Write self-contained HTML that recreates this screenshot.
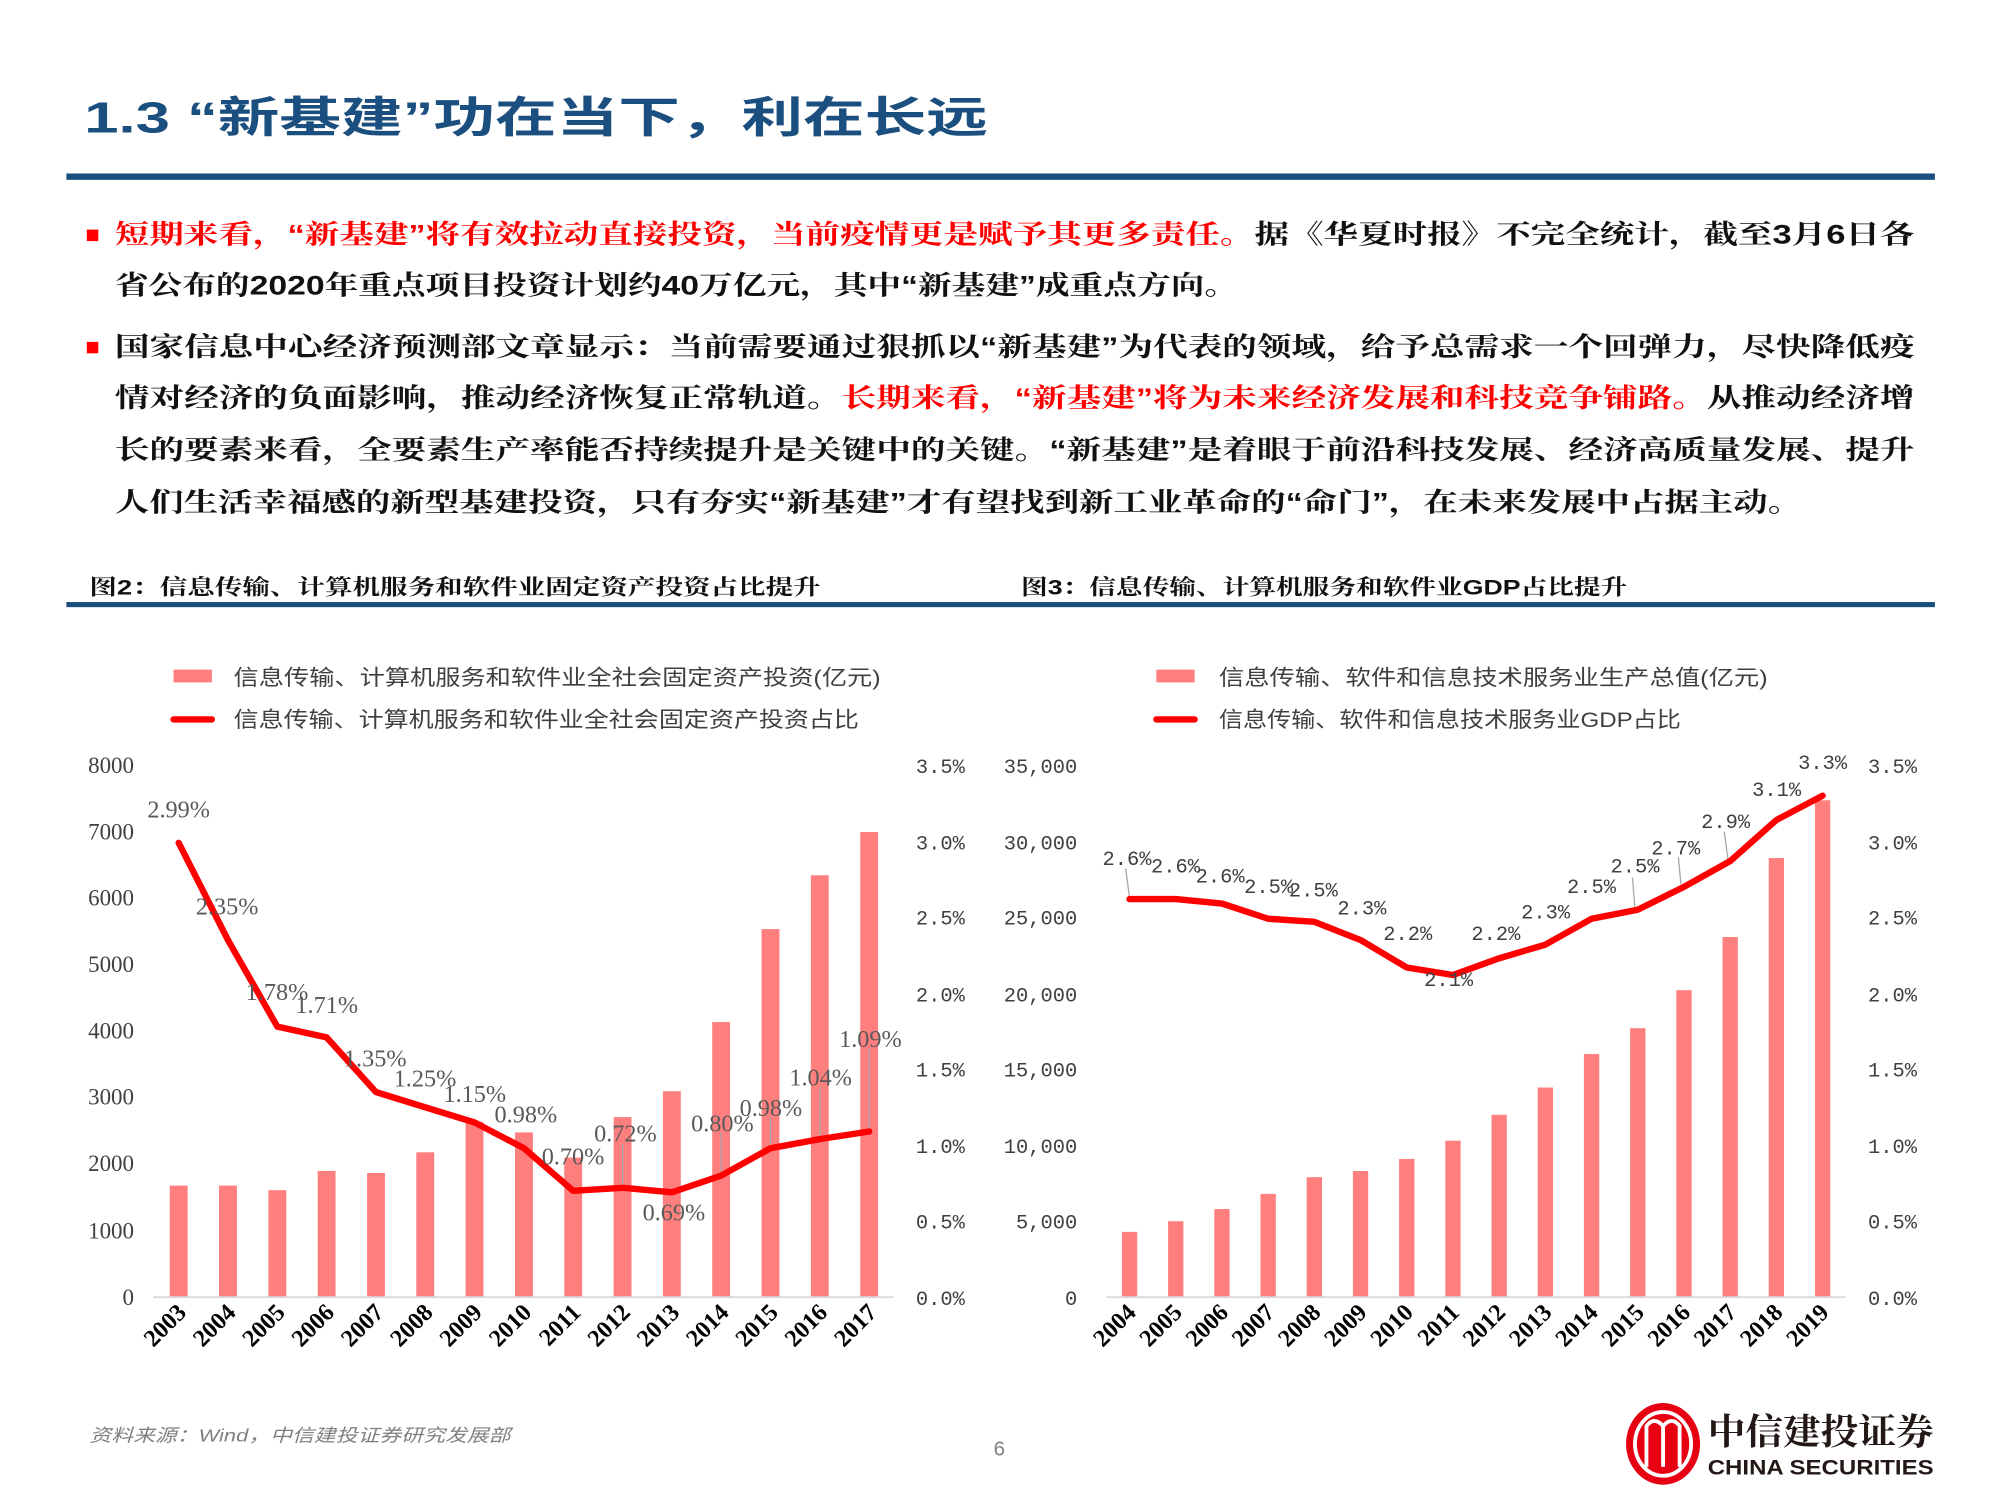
<!DOCTYPE html>
<html><head><meta charset="utf-8">
<style>
html,body{margin:0;padding:0;background:#fff;}
svg{display:block;}
.cn{font-family:"Liberation Sans","Noto Sans CJK SC",sans-serif;}
.bd{font-family:"Liberation Sans","Noto Serif CJK SC","Noto Sans CJK SC",sans-serif;font-weight:bold;}
.ax{font-family:"Liberation Serif","Noto Serif CJK SC",serif;font-size:18px;fill:#404040;}
.mono{font-family:"Liberation Mono","Noto Sans CJK SC",monospace;font-size:16px;fill:#404040;}
.dl{font-family:"Liberation Serif",serif;font-size:19px;fill:#595959;}
.dl2{font-family:"Liberation Mono",monospace;font-size:16px;fill:#404040;}
.yr{font-family:"Liberation Serif",serif;font-size:19px;font-weight:bold;fill:#000;}
.lg{font-family:"Liberation Sans","Noto Sans CJK SC",sans-serif;font-size:17px;fill:#404040;}
</style></head>
<body>
<svg width="2000" height="1500" viewBox="0 0 1567 1176" preserveAspectRatio="none" xmlns="http://www.w3.org/2000/svg">
<rect width="1567" height="1176" fill="#fff"/>
<text x="66" y="104" class="cn" font-size="34" fill="#1B4F7F" font-weight="bold" textLength="708" lengthAdjust="spacingAndGlyphs">1.3 “新基建”功在当下，利在长远</text>
<rect x="52" y="136" width="1464" height="5" fill="#1B4F7F"/>
<rect x="68" y="180" width="9" height="9" fill="#f00"/>
<rect x="68" y="268" width="9" height="9" fill="#f00"/>
<text class="bd" font-size="21" y="191" x="90" textLength="1410" lengthAdjust="spacingAndGlyphs"><tspan fill="#f00">短期来看，“新基建”将有效拉动直接投资，当前疫情更是赋予其更多责任。</tspan><tspan fill="#111">据《华夏时报》不完全统计，截至3月6日各</tspan></text>
<text class="bd" font-size="21" y="231" x="90" fill="#111" textLength="880" lengthAdjust="spacingAndGlyphs">省公布的2020年重点项目投资计划约40万亿元，其中“新基建”成重点方向。</text>
<text class="bd" font-size="21" y="279" x="90" fill="#111" textLength="1410" lengthAdjust="spacingAndGlyphs">国家信息中心经济预测部文章显示：当前需要通过狠抓以“新基建”为代表的领域，给予总需求一个回弹力，尽快降低疫</text>
<text class="bd" font-size="21" y="319" x="90" textLength="1410" lengthAdjust="spacingAndGlyphs"><tspan fill="#111">情对经济的负面影响，推动经济恢复正常轨道。</tspan><tspan fill="#f00">长期来看，“新基建”将为未来经济发展和科技竞争铺路。</tspan><tspan fill="#111">从推动经济增</tspan></text>
<text class="bd" font-size="21" y="360" x="90" fill="#111" textLength="1410" lengthAdjust="spacingAndGlyphs">长的要素来看，全要素生产率能否持续提升是关键中的关键。“新基建”是着眼于前沿科技发展、经济高质量发展、提升</text>
<text class="bd" font-size="21" y="401" x="90" fill="#111" textLength="1322" lengthAdjust="spacingAndGlyphs">人们生活幸福感的新型基建投资，只有夯实“新基建”才有望找到新工业革命的“命门”，在未来发展中占据主动。</text>
<text class="bd" font-size="17" y="466" x="70" fill="#111" textLength="573" lengthAdjust="spacingAndGlyphs">图2：信息传输、计算机服务和软件业固定资产投资占比提升</text>
<text class="bd" font-size="17" y="466" x="800" fill="#111" textLength="475" lengthAdjust="spacingAndGlyphs">图3：信息传输、计算机服务和软件业GDP占比提升</text>
<rect x="52" y="472" width="1464" height="4" fill="#1B4F7F"/>

<rect x="136" y="525" width="30" height="10" fill="#FF7F7F"/>
<text class="lg" x="183" y="537" textLength="507" lengthAdjust="spacingAndGlyphs">信息传输、计算机服务和软件业全社会固定资产投资(亿元)</text>
<line x1="136" y1="564" x2="166" y2="564" stroke="#f00" stroke-width="5" stroke-linecap="round"/>
<text class="lg" x="183" y="570" textLength="490" lengthAdjust="spacingAndGlyphs">信息传输、计算机服务和软件业全社会固定资产投资占比</text>
<g class="ax" text-anchor="end">
<text x="105" y="606">8000</text><text x="105" y="658">7000</text><text x="105" y="710">6000</text><text x="105" y="762">5000</text>
<text x="105" y="814">4000</text><text x="105" y="866">3000</text><text x="105" y="918">2000</text><text x="105" y="971">1000</text><text x="105" y="1023">0</text>
</g>
<g class="mono" text-anchor="end">
<text x="756" y="606">3.5%</text><text x="756" y="666">3.0%</text><text x="756" y="725">2.5%</text><text x="756" y="785">2.0%</text>
<text x="756" y="844">1.5%</text><text x="756" y="904">1.0%</text><text x="756" y="963">0.5%</text><text x="756" y="1023">0.0%</text>
</g>
<g fill="#FF7F7F">
<rect x="133" y="929.5" width="14" height="87.5"/>
<rect x="171.6" y="929.5" width="14" height="87.5"/>
<rect x="210.3" y="933.1" width="14" height="83.9"/>
<rect x="248.9" y="918" width="14" height="99"/>
<rect x="287.6" y="919.6" width="14" height="97.4"/>
<rect x="326.2" y="903.4" width="14" height="113.6"/>
<rect x="364.8" y="879.5" width="14" height="137.5"/>
<rect x="403.5" y="887.8" width="14" height="129.2"/>
<rect x="442.1" y="907.6" width="14" height="109.4"/>
<rect x="480.8" y="875.8" width="14" height="141.2"/>
<rect x="519.4" y="855.5" width="14" height="161.5"/>
<rect x="558" y="801.3" width="14" height="215.7"/>
<rect x="596.7" y="728.4" width="14" height="288.6"/>
<rect x="635.3" y="686.2" width="14" height="330.8"/>
<rect x="674" y="652.3" width="14" height="364.7"/>
</g>
<line x1="120" y1="1017" x2="700" y2="1017" stroke="#d9d9d9" stroke-width="1.5"/>
<g stroke="#a6a6a6" stroke-width="1">
<line x1="487.8" y1="931" x2="487.8" y2="897"/><line x1="565" y1="921" x2="565" y2="888"/><line x1="603.7" y1="900" x2="603.7" y2="876"/><line x1="642.3" y1="893" x2="642.3" y2="852"/><line x1="681" y1="887" x2="681" y2="822"/>
</g>
<polyline fill="none" stroke="#f00" stroke-width="5" stroke-linejoin="round" stroke-linecap="round" points="140,660.8 178.6,737 217.3,804.9 255.9,813.3 294.6,856.2 333.2,868.1 371.8,880 410.5,900.2 449.1,933.6 487.8,931.2 526.4,934.8 565,921.7 603.7,900.2 642.3,893.1 681,887.1"/>
<g class="dl" text-anchor="middle">
<text x="140" y="641">2.99%</text><text x="178" y="717">2.35%</text><text x="217" y="784">1.78%</text><text x="256" y="794">1.71%</text>
<text x="294" y="836">1.35%</text><text x="333" y="852">1.25%</text><text x="372" y="864">1.15%</text><text x="412" y="880">0.98%</text>
<text x="449" y="913">0.70%</text><text x="490" y="895">0.72%</text><text x="528" y="957">0.69%</text><text x="566" y="887">0.80%</text>
<text x="604" y="875">0.98%</text><text x="643" y="851">1.04%</text><text x="682" y="821">1.09%</text>
</g>
<g class="yr" text-anchor="end">
<text transform="translate(147,1030) rotate(-45)">2003</text><text transform="translate(185.6,1030) rotate(-45)">2004</text><text transform="translate(224.3,1030) rotate(-45)">2005</text><text transform="translate(262.9,1030) rotate(-45)">2006</text><text transform="translate(301.6,1030) rotate(-45)">2007</text><text transform="translate(340.2,1030) rotate(-45)">2008</text><text transform="translate(378.8,1030) rotate(-45)">2009</text><text transform="translate(417.5,1030) rotate(-45)">2010</text><text transform="translate(456.1,1030) rotate(-45)">2011</text><text transform="translate(494.8,1030) rotate(-45)">2012</text><text transform="translate(533.4,1030) rotate(-45)">2013</text><text transform="translate(572,1030) rotate(-45)">2014</text><text transform="translate(610.7,1030) rotate(-45)">2015</text><text transform="translate(649.3,1030) rotate(-45)">2016</text><text transform="translate(688,1030) rotate(-45)">2017</text>
</g>

<rect x="906" y="525" width="30" height="10" fill="#FF7F7F"/>
<text class="lg" x="955" y="537" textLength="430" lengthAdjust="spacingAndGlyphs">信息传输、软件和信息技术服务业生产总值(亿元)</text>
<line x1="906" y1="564" x2="936" y2="564" stroke="#f00" stroke-width="5" stroke-linecap="round"/>
<text class="lg" x="955" y="570" textLength="362" lengthAdjust="spacingAndGlyphs">信息传输、软件和信息技术服务业GDP占比</text>
<g class="mono" text-anchor="end">
<text x="844" y="606">35,000</text><text x="844" y="666">30,000</text><text x="844" y="725">25,000</text><text x="844" y="785">20,000</text>
<text x="844" y="844">15,000</text><text x="844" y="904">10,000</text><text x="844" y="963">5,000</text><text x="844" y="1023">0</text>
<text x="1502" y="606">3.5%</text><text x="1502" y="666">3.0%</text><text x="1502" y="725">2.5%</text><text x="1502" y="785">2.0%</text>
<text x="1502" y="844">1.5%</text><text x="1502" y="904">1.0%</text><text x="1502" y="963">0.5%</text><text x="1502" y="1023">0.0%</text>
</g>
<g fill="#FF7F7F">
<rect x="879" y="965.8" width="12" height="51.2"/>
<rect x="915.2" y="957.4" width="12" height="59.6"/>
<rect x="951.4" y="947.9" width="12" height="69.1"/>
<rect x="987.6" y="936" width="12" height="81"/>
<rect x="1023.8" y="922.9" width="12" height="94.1"/>
<rect x="1060" y="918.1" width="12" height="98.9"/>
<rect x="1096.2" y="908.6" width="12" height="108.4"/>
<rect x="1132.4" y="894.3" width="12" height="122.7"/>
<rect x="1168.6" y="874" width="12" height="143"/>
<rect x="1204.8" y="852.6" width="12" height="164.4"/>
<rect x="1241" y="826.4" width="12" height="190.6"/>
<rect x="1277.2" y="806.1" width="12" height="210.9"/>
<rect x="1313.4" y="776.3" width="12" height="240.7"/>
<rect x="1349.6" y="734.6" width="12" height="282.4"/>
<rect x="1385.8" y="672.7" width="12" height="344.3"/>
<rect x="1422" y="627.4" width="12" height="389.6"/>
</g>
<line x1="867" y1="1017" x2="1446" y2="1017" stroke="#d9d9d9" stroke-width="1.5"/>
<g stroke="#a6a6a6" stroke-width="1">
<line x1="885" y1="704" x2="882" y2="681"/><line x1="1281" y1="712" x2="1279" y2="688"/><line x1="1317" y1="693" x2="1315" y2="672"/><line x1="1354" y1="675" x2="1351" y2="652"/>
</g>
<polyline fill="none" stroke="#f00" stroke-width="5" stroke-linejoin="round" stroke-linecap="round" points="885,704.9 921.2,704.9 957.4,708.4 993.6,720.3 1029.8,722.7 1066,737 1102.2,758.5 1138.4,764.4 1174.6,751.3 1210.8,740.6 1247,720.3 1283.2,713.2 1319.4,695.3 1355.6,675.1 1391.8,642.9 1428,623.8"/>
<g class="dl2" text-anchor="middle">
<text x="883" y="678">2.6%</text><text x="921" y="684">2.6%</text><text x="956" y="692">2.6%</text><text x="994" y="700">2.5%</text>
<text x="1029" y="703">2.5%</text><text x="1067" y="717">2.3%</text><text x="1103" y="737">2.2%</text><text x="1135" y="773">2.1%</text>
<text x="1172" y="737">2.2%</text><text x="1211" y="720">2.3%</text><text x="1247" y="700">2.5%</text><text x="1281" y="684">2.5%</text>
<text x="1313" y="670">2.7%</text><text x="1352" y="649">2.9%</text><text x="1392" y="624">3.1%</text><text x="1428" y="603">3.3%</text>
</g>
<g class="yr" text-anchor="end">
<text transform="translate(891,1030) rotate(-45)">2004</text><text transform="translate(927.2,1030) rotate(-45)">2005</text><text transform="translate(963.4,1030) rotate(-45)">2006</text><text transform="translate(999.6,1030) rotate(-45)">2007</text><text transform="translate(1035.8,1030) rotate(-45)">2008</text><text transform="translate(1072,1030) rotate(-45)">2009</text><text transform="translate(1108.2,1030) rotate(-45)">2010</text><text transform="translate(1144.4,1030) rotate(-45)">2011</text><text transform="translate(1180.6,1030) rotate(-45)">2012</text><text transform="translate(1216.8,1030) rotate(-45)">2013</text><text transform="translate(1253,1030) rotate(-45)">2014</text><text transform="translate(1289.2,1030) rotate(-45)">2015</text><text transform="translate(1325.4,1030) rotate(-45)">2016</text><text transform="translate(1361.6,1030) rotate(-45)">2017</text><text transform="translate(1397.8,1030) rotate(-45)">2018</text><text transform="translate(1434,1030) rotate(-45)">2019</text>
</g>

<text x="70" y="1130" class="cn" font-size="14" fill="#808080" font-style="italic" textLength="330" lengthAdjust="spacingAndGlyphs">资料来源：Wind，中信建投证券研究发展部</text>
<text x="783" y="1141" font-family="Liberation Sans" font-size="16" fill="#808080" text-anchor="middle">6</text>
<ellipse cx="1303" cy="1132" rx="29" ry="32" fill="#E60012"/>
<ellipse cx="1303" cy="1132" rx="22" ry="25" fill="none" stroke="#fff" stroke-width="3"/>
<path d="M1290 1150 V1118 Q1296 1110 1303 1118 Q1310 1110 1316 1118 V1150 M1303 1118 V1150" fill="none" stroke="#fff" stroke-width="3"/>
<text x="1338" y="1132" class="bd" font-size="28" fill="#231815" textLength="177" lengthAdjust="spacingAndGlyphs">中信建投证券</text>
<text x="1338" y="1156" font-family="Liberation Sans" font-weight="bold" font-size="17" fill="#231815" textLength="177" lengthAdjust="spacingAndGlyphs">CHINA SECURITIES</text>
</svg>
</body></html>
